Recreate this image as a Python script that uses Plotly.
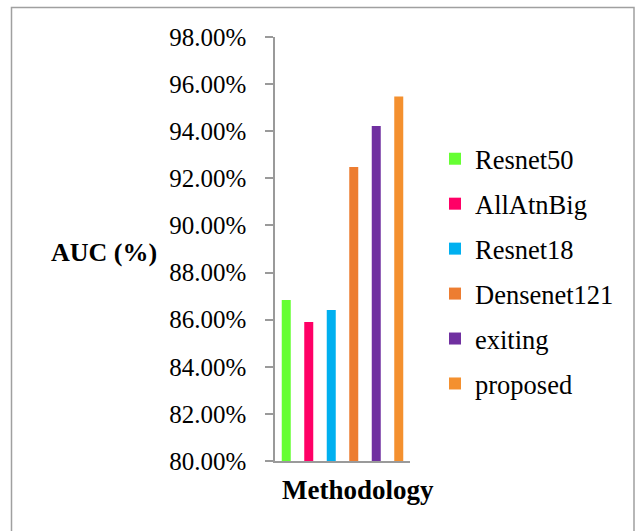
import plotly.graph_objects as go

# AUC per method
methods = ["Resnet50", "AllAtnBig", "Resnet18", "Densenet121", "exiting", "proposed"]
auc = [0.8684, 0.8590, 0.8641, 0.9248, 0.9422, 0.9547]
colors = ["#66FF33", "#FF0066", "#00B0F0", "#ED7D31", "#7030A0", "#F4902F"]

y_ticks = [0.80, 0.82, 0.84, 0.86, 0.88, 0.90, 0.92, 0.94, 0.96, 0.98]

W, H = 638, 531
L, R, T, B = 275, 228, 37, 70
plot_w = W - L - R
plot_h = H - T - B


def px_x(p):
    return (p - L) / plot_w


def px_y(p):
    return (H - B - p) / plot_h


serif = "Liberation Serif, Times New Roman, serif"
axis_col = "#9A9A9A"

fig = go.Figure()
for name, val, col in zip(methods, auc, colors):
    fig.add_trace(go.Bar(
        x=[name], y=[val], name=name, legendgroup=name,
        marker=dict(color=col, line=dict(width=0)),
        width=0.4,
    ))

fig.update_layout(
    width=W, height=H,
    margin=dict(l=L, r=R, t=T, b=B),
    paper_bgcolor="white", plot_bgcolor="white",
    barmode="overlay",
    font=dict(family=serif, size=25, color="black"),
    showlegend=True,
    legend=dict(
        x=px_x(435), xanchor="left",
        y=px_y(135), yanchor="top",
        font=dict(family=serif, size=26.5, color="black"),
        traceorder="grouped", tracegroupgap=7.5,
        bgcolor="rgba(0,0,0,0)",
        itemclick=False, itemdoubleclick=False,
    ),
    xaxis=dict(
        categoryorder="array", categoryarray=methods,
        range=[-0.5, len(methods) - 0.5],
        showticklabels=False, ticks="",
        showline=True, linecolor=axis_col, linewidth=1.5,
        showgrid=False, zeroline=False, fixedrange=True,
    ),
    yaxis=dict(
        range=[0.80, 0.98], tickvals=y_ticks, tickformat=".2%",
        ticks="outside", ticklen=8, tickcolor=axis_col, tickwidth=1.5,
        ticklabelstandoff=14,
        tickfont=dict(family=serif, size=25, color="black"),
        showline=True, linecolor=axis_col, linewidth=1.5,
        showgrid=False, zeroline=False, fixedrange=True,
    ),
    shapes=[dict(
        type="rect", xref="paper", yref="paper",
        x0=px_x(11.5), x1=px_x(634), y0=px_y(545), y1=px_y(7.5),
        line=dict(color="#A0A0A0", width=1.5), fillcolor="rgba(0,0,0,0)",
        layer="below",
    )],
    annotations=[
        dict(text="<b>AUC (%)</b>", xref="paper", yref="paper",
             x=px_x(104), y=px_y(252), xanchor="center", yanchor="middle",
             showarrow=False, font=dict(family=serif, size=26, color="black")),
        dict(text="<b>Methodology</b>", xref="paper", yref="paper",
             x=px_x(358), y=px_y(490), xanchor="center", yanchor="middle",
             showarrow=False, font=dict(family=serif, size=27, color="black")),
    ],
)

fig.write_html("out.html", config={"displayModeBar": False})
